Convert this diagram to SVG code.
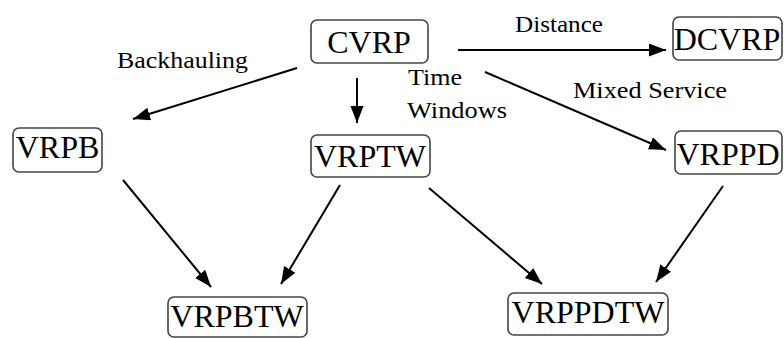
<svg xmlns="http://www.w3.org/2000/svg" width="784" height="338" viewBox="0 0 784 338">
<style>
.box{fill:#fff;stroke:#444;stroke-width:1.6}
.nt{font-family:"Liberation Serif","Times New Roman",serif;font-size:32px;fill:#000;text-anchor:middle}
.lb{font-family:"Liberation Serif","Times New Roman",serif;font-size:24px;fill:#000}
.ed{stroke:#000;stroke-width:2;fill:none;marker-end:url(#ah)}
</style>
<defs>
<marker id="ah" markerUnits="userSpaceOnUse" markerWidth="18" markerHeight="14" refX="17" refY="6.5" orient="auto">
<path d="M0,0 L17,6.5 L0,13 z" fill="#000"/>
</marker>
</defs>
<g id="edges">
<line class="ed" x1="458" y1="50" x2="666" y2="50"/>
<line class="ed" x1="297" y1="68" x2="133" y2="119"/>
<line class="ed" x1="357" y1="78" x2="357" y2="123"/>
<line class="ed" x1="485" y1="72" x2="666" y2="150"/>
<line class="ed" x1="123" y1="180" x2="211" y2="287"/>
<line class="ed" x1="340" y1="185" x2="281" y2="284"/>
<line class="ed" x1="429" y1="188" x2="542" y2="284"/>
<line class="ed" x1="723" y1="186" x2="656" y2="282"/>
</g>
<g id="labels">
<text class="lb" x="515" y="32" textLength="88" lengthAdjust="spacingAndGlyphs">Distance</text>
<text class="lb" x="117" y="68" textLength="131" lengthAdjust="spacingAndGlyphs">Backhauling</text>
<text class="lb" x="408" y="85" textLength="54" lengthAdjust="spacingAndGlyphs">Time</text>
<text class="lb" x="407" y="118" textLength="100" lengthAdjust="spacingAndGlyphs">Windows</text>
<text class="lb" x="573" y="98" textLength="154" lengthAdjust="spacingAndGlyphs">Mixed Service</text>
</g>
<g id="CVRP"><rect class="box" x="311" y="20" width="117" height="43" rx="6"/><text class="nt" x="369" y="53">CVRP</text></g>
<g id="DCVRP"><rect class="box" x="673" y="17" width="109" height="43" rx="6"/><text class="nt" x="727" y="50">DCVRP</text></g>
<g id="VRPB"><rect class="box" x="13" y="128" width="89" height="44" rx="6"/><text class="nt" x="57.5" y="158">VRPB</text></g>
<g id="VRPTW"><rect class="box" x="311" y="135" width="119" height="42" rx="6"/><text class="nt" x="370" y="167">VRPTW</text></g>
<g id="VRPPD"><rect class="box" x="675" y="131" width="107" height="43" rx="6"/><text class="nt" x="728" y="165">VRPPD</text></g>
<g id="VRPBTW"><rect class="box" x="168" y="297" width="139" height="40" rx="6"/><text class="nt" x="237" y="327">VRPBTW</text></g>
<g id="VRPPDTW"><rect class="box" x="508" y="293" width="160" height="42" rx="6"/><text class="nt" x="588" y="323">VRPPDTW</text></g>
</svg>
